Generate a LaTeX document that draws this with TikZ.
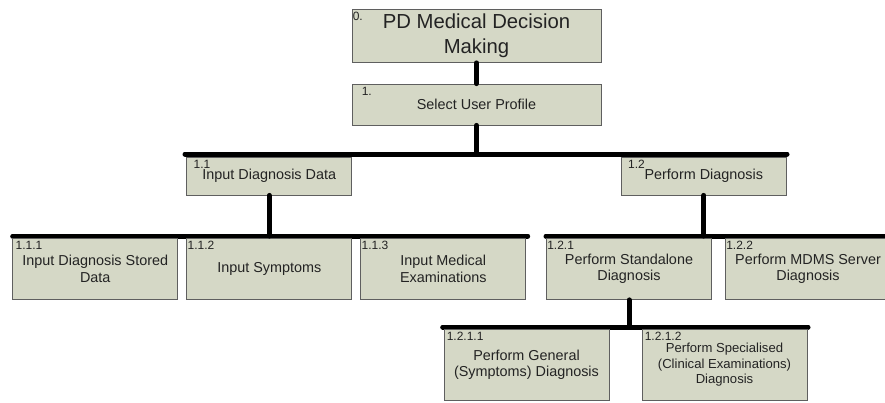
\documentclass[tikz,border=0pt]{standalone}
\usepackage{fontspec}
\setmainfont{Liberation Sans}
\usepackage{xcolor}
\definecolor{box-fill}{RGB}{213,216,198}
\definecolor{box-line}{RGB}{95,95,95}
\definecolor{box-text}{RGB}{35,35,35}

\begin{document}
\begin{tikzpicture}[x=1pt,y=-1pt,
	task/.style={draw=box-line,fill=box-fill,line width=.8pt,text=box-text,
		font=\fontsize{14.4}{16.5}\selectfont,align=center,inner sep=0pt,
		minimum width=165pt,minimum height=61pt},
	num/.style={anchor=north west,inner sep=0pt,text=box-text,font=\fontsize{12}{12}\selectfont},
	bus/.style={line width=5pt,line cap=round}]
	\useasboundingbox (0,0) rectangle (885,402);
	\clip (0,0) rectangle (885,402);
	
	% bars
	\coordinate (bus1w) at (185,154);   \coordinate (bus1e) at (787,154);
	\coordinate (bus2w) at (12.7,236);  \coordinate (bus2m) at (527.7,236);
	\coordinate (bus2n) at (546,236);   \coordinate (bus2e) at (890,236);
	\coordinate (bus3w) at (442.7,327); \coordinate (bus3e) at (808,327);
	\draw[bus] (bus1w)--(bus1e);
	\draw[bus] (bus2w)--(bus2m);
	\draw[bus] (bus2n)--(bus2e);
	\draw[bus] (bus3w)--(bus3e);
	
	% boxes
	\node[task,minimum width=249pt,minimum height=53.5pt,font=\fontsize{20.3}{25}\selectfont] (b0) at (476.5,35.75) {PD Medical Decision\\Making};
	\node[task,minimum width=249pt,minimum height=41pt] (b1) at (476.5,104.5) {Select User Profile};
	\node[task,minimum height=38pt] (b11) at (269.3,176) {Input Diagnosis Data};
	\node[task,minimum height=38pt] (b12) at (703.8,176) {Perform Diagnosis};
	\node[task] (b111) at (95.3,269) {Input Diagnosis Stored\\Data};
	\node[task] (b112) at (269.3,269) {Input Symptoms};
	\node[task] (b113) at (443.3,269) {Input Medical\\Examinations};
	\node[task] (b121) at (629,269) {Perform Standalone\\Diagnosis};
	\node[task] (b122) at (808,269) {Perform MDMS Server\\Diagnosis};
	\node[task,minimum height=71.5pt] (b1211) at (526.5,365) {Perform General\\(Symptoms) Diagnosis};
	\node[task,minimum height=71.5pt,font=\fontsize{13.1}{15.5}\selectfont] (b1212) at (724.5,365) {Perform Specialised\\(Clinical Examinations)\\Diagnosis};
	
	\foreach \b/\t/\dx in {b0/0./1,b1/1./10,b11/1.1/7,b12/1.2/7,b111/1.1.1/3,b112/1.1.2/1,
		b113/1.1.3/1,b121/1.2.1/1,b122/1.2.2/1,b1211/1.2.1.1/3,b1212/1.2.1.2/3}
		\node[num] at ([shift={(\dx,3)}]\b.north west) {\t};
	
	% stems
	\draw[bus] (b0.south)--(b1.north);
	\draw[bus] (b1.south)--(b1.south |- bus1w);
	\draw[bus] (b11.south)--(b11.south |- bus2w);
	\draw[bus] (b12.south)--(b12.south |- bus2n);
	\draw[bus] (b121.south)--(b121.south |- bus3w);
\end{tikzpicture}
\end{document}
